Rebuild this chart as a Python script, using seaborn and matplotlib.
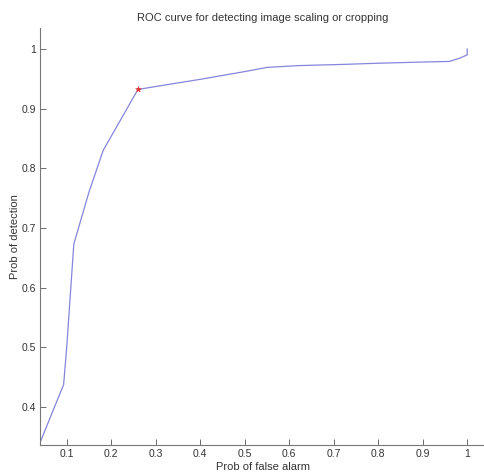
import pandas as pd
import seaborn as sns
import matplotlib.pyplot as plt

# ROC curve values
pfa = [0.04, 0.089, 0.093, 0.10, 0.116, 0.15, 0.182, 0.26, 0.30, 0.40, 0.50, 0.55,
       0.62, 0.72, 0.80, 0.90, 0.96, 0.985, 1.0, 1.0]
pd_ = [0.34, 0.43, 0.437, 0.50, 0.673, 0.76, 0.83, 0.932, 0.937, 0.949, 0.962, 0.969,
       0.972, 0.974, 0.976, 0.978, 0.979, 0.985, 0.99, 1.0]
op_x = [0.26]
op_y = [0.932]

xticks = [0.1, 0.2, 0.3, 0.4, 0.5, 0.6, 0.7, 0.8, 0.9, 1]
xtick_labels = ['0.1', '0.2', '0.3', '0.4', '0.5', '0.6', '0.7', '0.8', '0.9', '1']
yticks = [0.4, 0.5, 0.6, 0.7, 0.8, 0.9, 1]
ytick_labels = ['0.4', '0.5', '0.6', '0.7', '0.8', '0.9', '1']

df = pd.DataFrame({'pfa': pfa, 'pd': pd_})

sns.set_theme(style="white")
plt.rcParams['font.family'] = ['Liberation Sans', 'DejaVu Sans']

fig = plt.figure(figsize=(4.85, 4.75), dpi=100)
ax = fig.add_axes([0.0825, 0.063, 0.9175, 0.878])

sns.lineplot(data=df, x='pfa', y='pd', ax=ax, color='#8585dc', linewidth=0.9,
             sort=False, estimator=None)
sns.scatterplot(x=op_x, y=op_y, ax=ax, marker='*', color='#e03030', s=18,
                edgecolor='#e03030', linewidth=0.4, zorder=5)

ax.set_xlim(0.04, 1.04)
ax.set_ylim(0.336, 1.035)
ax.set_xticks(xticks)
ax.set_xticklabels(xtick_labels)
ax.set_yticks(yticks)
ax.set_yticklabels(ytick_labels)
ax.tick_params(direction='in', length=4, width=0.6, colors='#555555',
               labelsize=7.5, labelcolor='#333333', bottom=True, left=True, pad=3)

sns.despine(ax=ax)
for s in ['left', 'bottom']:
    ax.spines[s].set_color('#777777')
    ax.spines[s].set_linewidth(0.8)

ax.set_xlabel('Prob of false alarm', fontsize=8, color='#333333', labelpad=2)
ax.set_ylabel('Prob of detection', fontsize=8, color='#333333', labelpad=1)
ax.set_title('ROC curve for detecting image scaling or cropping', fontsize=8,
             color='#333333', pad=5)

plt.savefig('out.png', dpi=100)
